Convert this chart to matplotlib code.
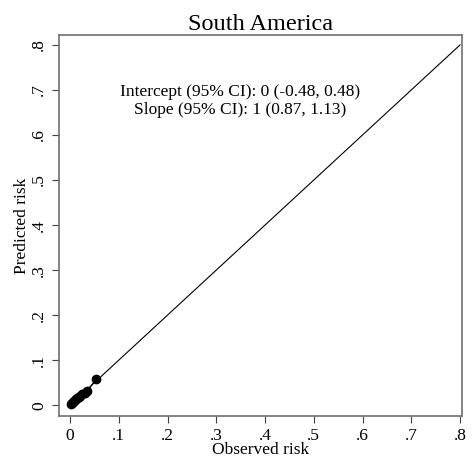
import matplotlib
import matplotlib.pyplot as plt
import numpy as np

matplotlib.use('Agg')
plt.rcParams['font.family'] = ['Liberation Serif', 'DejaVu Serif']

# calibration points (observed vs predicted risk)
observed = [0.002, 0.004, 0.006, 0.008, 0.010, 0.012, 0.015, 0.018, 0.021, 0.025, 0.030, 0.035, 0.054]
predicted = [0.003, 0.005, 0.007, 0.009, 0.011, 0.013, 0.016, 0.019, 0.021, 0.024, 0.028, 0.031, 0.058]
ticks = [0, .1, .2, .3, .4, .5, .6, .7, .8]
tick_labels = ['0', '.1', '.2', '.3', '.4', '.5', '.6', '.7', '.8']
ref_line = [0, 0.8]

fig = plt.figure(figsize=(4.72, 4.67), dpi=100)
ax = fig.add_axes([59 / 472, 1 - 416 / 467, 403 / 472, 381 / 467])

ax.plot(ref_line, ref_line, color='black', lw=0.8)
ax.plot(observed, predicted, color='black', lw=0.8, marker='o', ms=6)

ax.set_xlim(-0.0226, 0.804)
ax.set_ylim(-0.024, 0.822)
ax.set_xticks(ticks, tick_labels, fontsize=12.5)
ax.set_yticks(ticks, tick_labels, fontsize=12.5, rotation=90, va='center')
ax.tick_params(length=5, width=0.8, color='#404040')
for side in ax.spines.values():
    side.set_color('#707070')
    side.set_linewidth(1.2)

ax.set_title('South America', fontsize=17.5, pad=2)
ax.set_xlabel('Observed risk', fontsize=12.5, labelpad=-1)
ax.set_ylabel('Predicted risk', fontsize=12.5, labelpad=1)

ax.text(0.349, 0.696, 'Intercept (95% CI): 0 (-0.48, 0.48)', ha='center', va='center', fontsize=12.5)
ax.text(0.349, 0.656, 'Slope (95% CI): 1 (0.87, 1.13)', ha='center', va='center', fontsize=12.5)

fig.savefig('out.png')
